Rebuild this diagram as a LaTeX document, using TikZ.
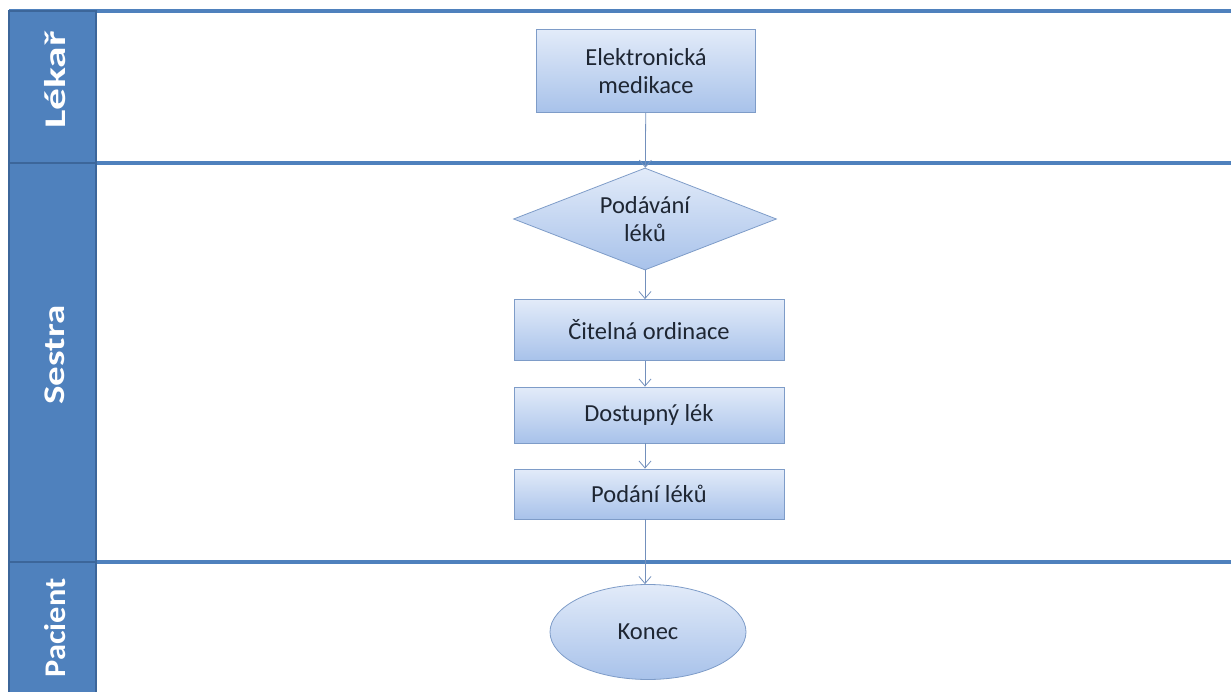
\documentclass[tikz,border=0pt]{standalone}
\usepackage{fontspec}
\setmainfont{Carlito}
\usetikzlibrary{shapes.geometric,arrows.meta}
\definecolor{laneblue}{HTML}{4F81BD}
\definecolor{lanedark}{HTML}{3C669A}
\definecolor{boxedge}{HTML}{7E9CC8}
\definecolor{boxtop}{HTML}{E2EBF9}
\definecolor{boxbot}{HTML}{A8C2EA}
\definecolor{arrowcol}{HTML}{7390BC}
\definecolor{inktext}{HTML}{1E2633}
\tikzset{
	lanehead/.style={fill=laneblue,draw=lanedark,line width=1.5pt},
	laneline/.style={draw=laneblue,line width=3.5pt},
	lanetext/.style={rotate=90,xscale=#1,transform shape,text=white,font=\fontsize{30}{34}\selectfont\bfseries},
	lanetext/.default=1.26,
	shapefill/.style={draw=boxedge,top color=boxtop,bottom color=boxbot,line width=0.8pt,inner sep=0pt,font=\fontsize{24.5}{28}\selectfont,text=inktext,align=center},
	proc/.style={shapefill,minimum width=270pt},
	flow/.style={draw=arrowcol,line width=0.8pt,-{Straight Barb[length=7pt,width=12pt]}}
}
\begin{document}
\begin{tikzpicture}[x=1pt,y=-1pt]
	\useasboundingbox (0,0) rectangle (1231,692);
	% lanes
	\draw[laneline] (9,11) -- (1231,11);
	\draw[laneline] (96,163) -- (1231,163);
	\draw[laneline] (96,562) -- (1231,562);
	\draw[lanehead] (9,11) rectangle (96,163);
	\draw[lanehead] (9,163) rectangle (96,562);
	\draw[lanehead] (9,562) rectangle (96,695);
	\node[lanetext=1.45] (lekar) at (55,80) {Lékař};
	\node[lanetext=1.3] (sestra) at (55,355) {Sestra};
	\node[lanetext=1.08] (pacient) at (55,628) {Pacient};
	% steps
	\node[proc,minimum width=219pt,minimum height=83pt] (medikace) at (646,71) {Elektronická\\medikace};
	\node[shapefill,diamond,aspect=2.58,minimum width=263pt,minimum height=102pt] (podavani) at (645,219) {Podávání\\léků};
	\node[proc,minimum height=61pt] (citelna) at (649,330) {Čitelná ordinace};
	\node[proc,minimum height=56pt] (dostupny) at (649,415) {Dostupný lék};
	\node[proc,minimum height=50pt] (podani) at (649,494) {Podání léků};
	\node[shapefill,ellipse,minimum width=196pt,minimum height=95pt] (konec) at (648,632) {Konec};
	% arrows
	\draw[flow] (medikace) -- (podavani);
	\draw[flow] (podavani.south) -- (podavani.south |- citelna.north);
	\draw[flow] (citelna.south -| podavani.south) -- (podavani.south |- dostupny.north);
	\draw[flow] (dostupny.south -| podavani.south) -- (podavani.south |- podani.north);
	\draw[flow] (podani.south -| podavani.south) -- (podavani.south |- konec.north);
\end{tikzpicture}
\end{document}
